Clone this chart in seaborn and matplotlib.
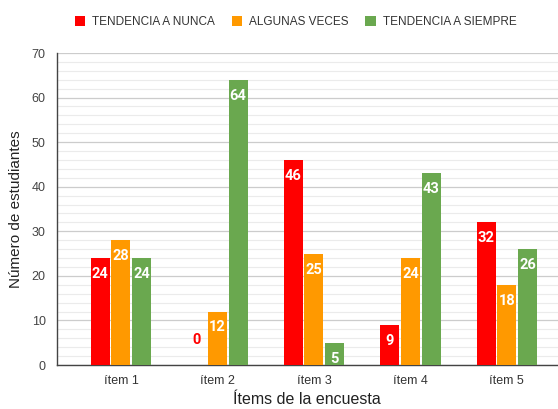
import matplotlib
matplotlib.use("Agg")
import matplotlib.pyplot as plt
import seaborn as sns
import pandas as pd
import numpy as np
from matplotlib.ticker import MultipleLocator

items = ["ítem 1", "ítem 2", "ítem 3", "ítem 4", "ítem 5"]
series_names = ["TENDENCIA A NUNCA", "ALGUNAS VECES", "TENDENCIA A SIEMPRE"]
nunca = [24, 0, 46, 9, 32]
algunas = [28, 12, 25, 24, 18]
siempre = [24, 64, 5, 43, 26]
colors = ["#FF0000", "#FF9900", "#6AA84F"]

values = [nunca, algunas, siempre]
df = pd.DataFrame({
    "item": [it for s in values for it in items],
    "serie": [name for name, s in zip(series_names, values) for _ in s],
    "valor": [v for s in values for v in s],
})

sns.set_style("white")
plt.rcParams["font.family"] = ["Liberation Sans", "DejaVu Sans"]

fig = plt.figure(figsize=(5.58, 4.09), dpi=100)
ax = fig.add_axes([56.7 / 558, 1 - 365 / 409, 1 - 56.7 / 558, (365 - 53) / 409])

sns.barplot(data=df, x="item", y="valor", hue="serie", order=items,
            hue_order=series_names, palette=colors, width=0.643, gap=0.08,
            linewidth=0, saturation=1, ax=ax, zorder=3)

ax.set_ylim(0, 70)
ax.set_xlim(-0.666, 4.53)
ax.yaxis.set_major_locator(MultipleLocator(10))
ax.yaxis.set_minor_locator(MultipleLocator(2))
ax.grid(which="major", axis="y", color="#cccccc", linewidth=0.9, zorder=0)
ax.grid(which="minor", axis="y", color="#ebebeb", linewidth=0.8, zorder=0)
ax.set_axisbelow(True)

for s in ["top", "right"]:
    ax.spines[s].set_visible(False)
ax.spines["left"].set_color("#444444")
ax.spines["bottom"].set_color("#444444")
ax.spines["left"].set_linewidth(1.0)
ax.spines["bottom"].set_linewidth(1.0)

ax.tick_params(axis="y", which="major", direction="out", length=5, width=1,
               color="#444444", labelsize=9, labelcolor="#444444", pad=3)
ax.tick_params(axis="y", which="minor", length=0)
ax.tick_params(axis="x", length=0, labelsize=9, labelcolor="#333333", pad=7)

ax.set_ylabel("Número de estudiantes", fontsize=11, color="#222222", labelpad=6)
ax.set_xlabel("Ítems de la encuesta", fontsize=11.5, color="#222222", labelpad=4)

for ci, cont in enumerate(ax.containers):
    for bar, v in zip(cont.patches, values[ci]):
        xc = bar.get_x() + bar.get_width() / 2
        if v == 0:
            ax.annotate(str(v), xy=(xc, 0), xytext=(0, 18), textcoords="offset points",
                        ha="center", va="center", fontsize=10.5, fontweight="bold",
                        color=colors[ci], family="Roboto", zorder=5)
        else:
            ax.annotate(str(v), xy=(xc, bar.get_height()), xytext=(0, -11.5),
                        textcoords="offset points", ha="center", va="center",
                        fontsize=10.5, fontweight="bold", color="white",
                        family="Roboto", zorder=5)

handles, labels = ax.get_legend_handles_labels()
ax.get_legend().remove()
fig.legend(handles, labels, loc="center", bbox_to_anchor=(0.53, 1 - 22 / 409),
           ncol=3, frameon=False, fontsize=8.5, handlelength=0.9, handleheight=0.9,
           handletextpad=0.6, columnspacing=1.4, labelcolor="#333333")

fig.savefig("out.png", dpi=100)
